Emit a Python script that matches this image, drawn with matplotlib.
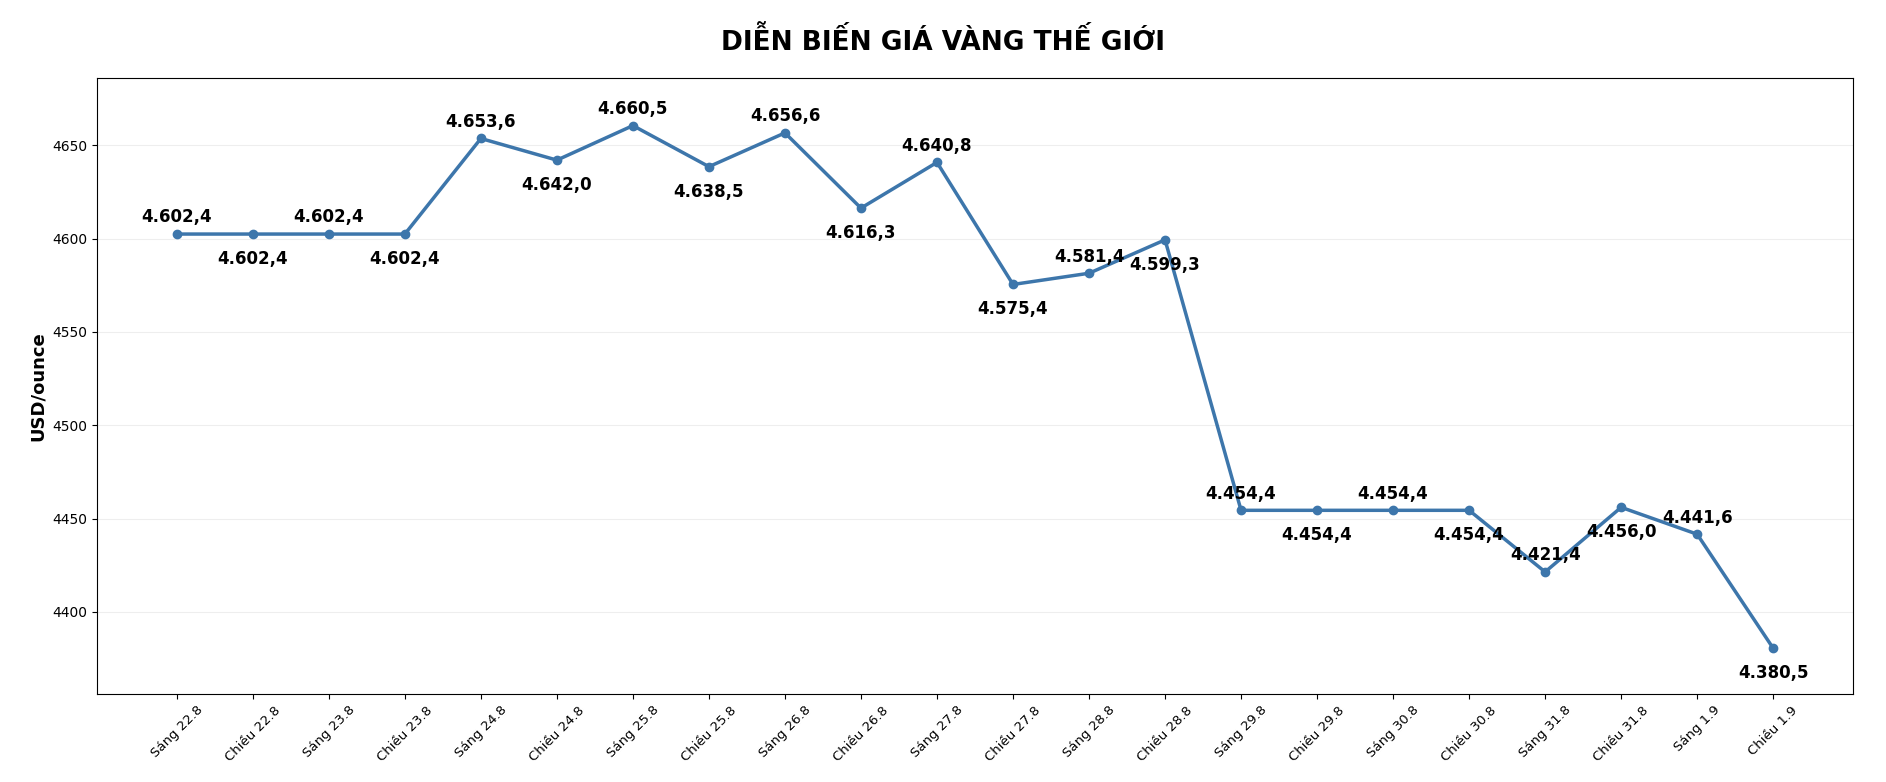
import matplotlib
matplotlib.use("Agg")
import matplotlib.pyplot as plt

labels = ["Sáng 22.8","Chiều 22.8","Sáng 23.8","Chiều 23.8","Sáng 24.8","Chiều 24.8",
          "Sáng 25.8","Chiều 25.8","Sáng 26.8","Chiều 26.8","Sáng 27.8","Chiều 27.8",
          "Sáng 28.8","Chiều 28.8","Sáng 29.8","Chiều 29.8","Sáng 30.8","Chiều 30.8",
          "Sáng 31.8","Chiều 31.8","Sáng 1.9","Chiều 1.9"]
prices = [4602.4,4602.4,4602.4,4602.4,4653.6,4642.0,4660.5,4638.5,4656.6,4616.3,4640.8,4575.4,
          4581.4,4599.3,4454.4,4454.4,4454.4,4454.4,4421.4,4456.0,4441.6,4380.5]

fig = plt.figure(figsize=(18.86, 7.82), dpi=100)
ax = fig.add_axes([97/1886, 1-694/782, (1853-97)/1886, (694-78)/782])
x = list(range(len(labels)))
ax.plot(x, prices, color="#3d76ab", lw=2.5, marker="o", ms=6)
for i, v in enumerate(prices):
    s = f"{v:,.1f}".replace(",", "X").replace(".", ",").replace("X", ".")
    dy = 12 if i % 2 == 0 else -18
    ax.annotate(s, (i, v), xytext=(0, dy), textcoords="offset points", ha="center",
                va="center", fontsize=12, fontweight="bold")
ax.set_xticks(x)
ax.set_xticklabels(labels, rotation=45, fontsize=9.5)
ax.set_xlim(-1.05, 22.05)
ax.set_ylim(4356, 4686)
ax.set_yticks([4400, 4450, 4500, 4550, 4600, 4650])
ax.tick_params(axis="y", labelsize=10)
ax.grid(axis="y", color="#eeeeee", lw=0.8)
ax.set_ylabel("USD/ounce", fontsize=13, fontweight="bold")
fig.suptitle("DIỄN BIẾN GIÁ VÀNG THẾ GIỚI", fontsize=19, fontweight="bold", y=0.965)
fig.savefig("out.png", dpi=100)
